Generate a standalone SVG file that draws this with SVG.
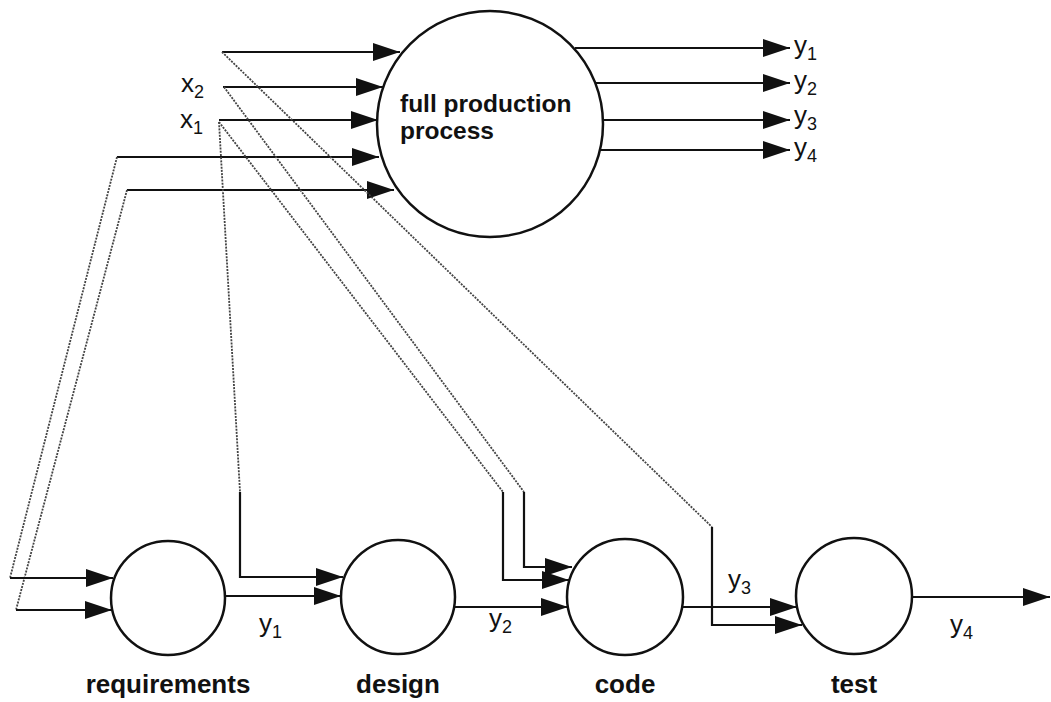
<svg xmlns="http://www.w3.org/2000/svg" width="1051" height="702" viewBox="0 0 1051 702">
<style>
.node{fill:#fff;stroke:#111;stroke-width:2.5}
.sol{fill:none;stroke:#111;stroke-width:2.2}
.dot{fill:none;stroke:#444;stroke-width:1.8;stroke-dasharray:2 1.2}
.var{font-family:"Liberation Sans",Arial,sans-serif;font-size:26px;fill:#111}
.sub{font-size:18px}
.lbl{font-family:"Liberation Sans",Arial,sans-serif;font-size:26px;font-weight:bold;fill:#111}
.big{font-size:24.5px}
</style>
<defs>
<marker id="ah" markerUnits="userSpaceOnUse" markerWidth="27" markerHeight="18" refX="27" refY="9" orient="auto">
<path d="M0,0 L27,9 L0,18 Z" fill="#111"/>
</marker>
</defs>
<rect width="1051" height="702" fill="#fff"/>
<g id="nodes">
<g id="full"><circle class="node" cx="490" cy="124" r="113"/>
<text class="lbl big" x="400" y="112">full production</text>
<text class="lbl big" x="400" y="139">process</text></g>
<g id="requirements"><circle class="node" cx="168" cy="598" r="57"/><text class="lbl" x="168" y="693" text-anchor="middle">requirements</text></g>
<g id="design"><circle class="node" cx="398" cy="597" r="57"/><text class="lbl" x="398" y="693" text-anchor="middle">design</text></g>
<g id="code"><circle class="node" cx="625" cy="597" r="58"/><text class="lbl" x="625" y="693" text-anchor="middle">code</text></g>
<g id="test"><circle class="node" cx="854" cy="596" r="58"/><text class="lbl" x="854" y="693" text-anchor="middle">test</text></g>
</g>
<g id="connectors">
<path class="sol" d="M222,52 H400" marker-end="url(#ah)"/>
<path class="sol" d="M223,87 H383" marker-end="url(#ah)"/>
<path class="sol" d="M219,120 H378" marker-end="url(#ah)"/>
<path class="sol" d="M117,157 H379" marker-end="url(#ah)"/>
<path class="sol" d="M127,190 H394" marker-end="url(#ah)"/>
<path class="sol" d="M575,48 H790" marker-end="url(#ah)"/>
<path class="sol" d="M596,83 H790" marker-end="url(#ah)"/>
<path class="sol" d="M603,120 H790" marker-end="url(#ah)"/>
<path class="sol" d="M600,150 H790" marker-end="url(#ah)"/>
<path class="dot" d="M117,157 L10,578"/>
<path class="dot" d="M127,190 L16,610"/>
<path class="dot" d="M219,122 L240,492"/>
<path class="dot" d="M219,122 L503,492"/>
<path class="dot" d="M224,87 L524,492"/>
<path class="dot" d="M222,52 L712,527"/>
<path class="sol" d="M10,578 H113" marker-end="url(#ah)"/>
<path class="sol" d="M16,610 H112" marker-end="url(#ah)"/>
<path class="sol" d="M240,492 V577 H343" marker-end="url(#ah)"/>
<path class="sol" d="M225,596 H341" marker-end="url(#ah)"/>
<path class="sol" d="M524,492 V567 H572" marker-end="url(#ah)"/>
<path class="sol" d="M503,492 V580 H569" marker-end="url(#ah)"/>
<path class="sol" d="M455,607 H568" marker-end="url(#ah)"/>
<path class="sol" d="M683,607 H797" marker-end="url(#ah)"/>
<path class="sol" d="M712,527 V625 H802" marker-end="url(#ah)"/>
<path class="sol" d="M912,597 H1050" marker-end="url(#ah)"/>
</g>
<g id="labels">
<text class="var" x="181" y="92">x<tspan class="sub" dy="6">2</tspan></text>
<text class="var" x="180" y="128">x<tspan class="sub" dy="6">1</tspan></text>
<text class="var" x="794" y="54">y<tspan class="sub" dy="6">1</tspan></text>
<text class="var" x="794" y="89">y<tspan class="sub" dy="6">2</tspan></text>
<text class="var" x="794" y="124">y<tspan class="sub" dy="6">3</tspan></text>
<text class="var" x="794" y="156">y<tspan class="sub" dy="6">4</tspan></text>
<text class="var" x="259" y="632">y<tspan class="sub" dy="6">1</tspan></text>
<text class="var" x="489" y="627">y<tspan class="sub" dy="6">2</tspan></text>
<text class="var" x="728" y="588">y<tspan class="sub" dy="6">3</tspan></text>
<text class="var" x="950" y="633">y<tspan class="sub" dy="6">4</tspan></text>
</g>
</svg>
